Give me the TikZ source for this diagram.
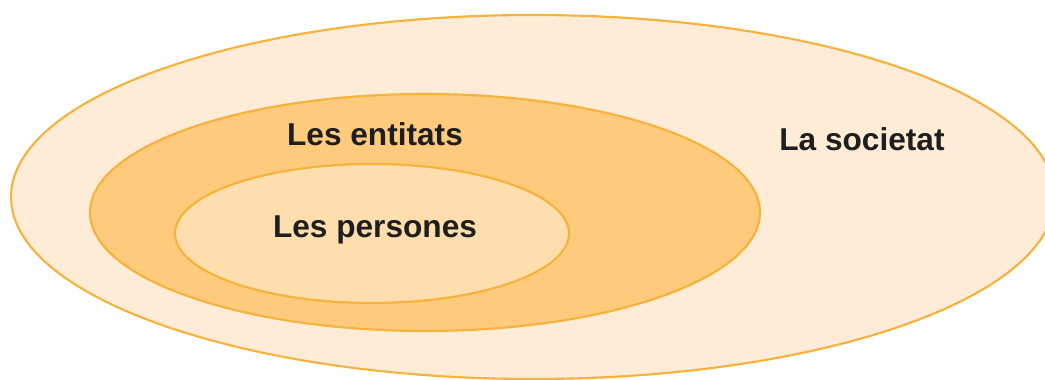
\documentclass[tikz,border=0pt]{standalone}
\usepackage{fontspec}
\setmainfont{Liberation Sans}
\tikzset{>=latex}
\definecolor{myorange}{RGB}{248,177,58}
\definecolor{societatcol}{RGB}{254,236,214}
\definecolor{entitatcol}{RGB}{253,203,123}
\definecolor{personacol}{RGB}{253,222,172}
\definecolor{mytext}{RGB}{30,30,32}
\tikzstyle{set}=[draw=myorange,line width=1.2pt]
\tikzstyle{setlabel}=[anchor=base,inner sep=0,text=mytext,font=\fontsize{18}{20}\selectfont\bfseries]

\begin{document}
\begin{tikzpicture}
  \def\W{20.9}  % picture width
  \def\H{7.6}   % picture height
  
  % FRAME
  \useasboundingbox (0,0) rectangle (\W,\H);
  \clip (0,0) rectangle (\W,\H);
  
  % SETS
  \draw[set,fill=societatcol] (10.66,3.66) ellipse({10.44} and {3.64});
  \draw[set,fill=entitatcol]  (8.50,3.35) ellipse({6.70} and {2.37});
  \draw[set,fill=personacol]  (7.44,2.93) ellipse({3.94} and {1.39});
  
  % LABELS
  \node[setlabel] (societat) at (17.24,4.58) {La societat};
  \node[setlabel] (entitats) at (7.50,4.68) {Les entitats};
  \node[setlabel] (persones) at (7.50,2.84) {Les persones};
  
\end{tikzpicture}
\end{document}
